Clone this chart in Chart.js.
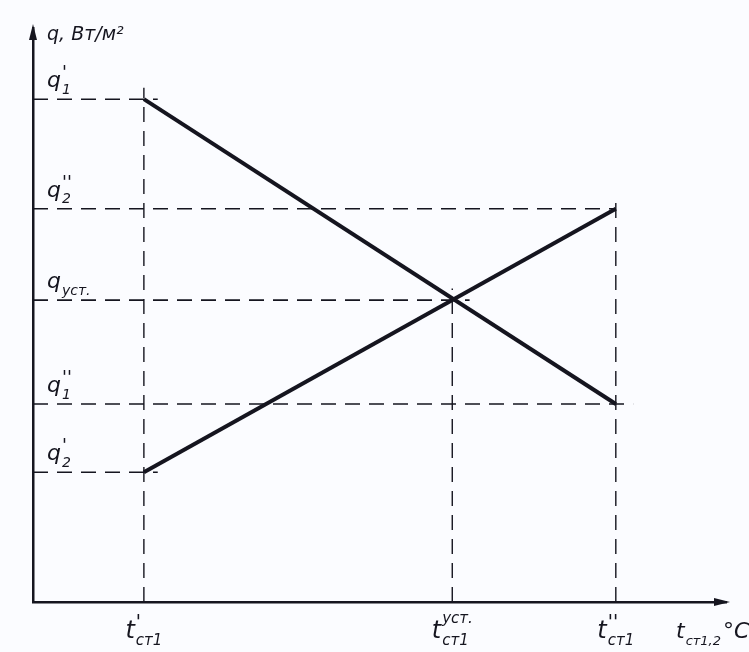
<!DOCTYPE html>
<html>
<head>
<meta charset="utf-8">
<script src="https://cdn.jsdelivr.net/npm/chart.js@4/dist/chart.umd.min.js"></script>
<style>
  html, body { margin: 0; padding: 0; background: #fbfcff; }
  canvas { display: block; }
</style>
</head>
<body>
<canvas id="c" width="749" height="652"></canvas>
<script>
// ---- data (arbitrary units 0..100) ----
const xMarks = [16, 60.5, 84.1];              // t'ст1, t^уст ст1, t''ст1
const xMarkLabels = [
  { base: "t", sup: "'", sub: "ст1" },
  { base: "t", sup: "уст.", sub: "ст1" },
  { base: "t", sup: "''", sub: "ст1" }
];
const yMarks = [87.6, 68.5, 52.6, 34.5, 22.6]; // q'1, q''2, qуст, q''1, q'2
const yMarkLabels = [
  { base: "q", sup: "'", sub: "1" },
  { base: "q", sup: "''", sub: "2" },
  { base: "q", sup: "", sub: "уст." },
  { base: "q", sup: "''", sub: "1" },
  { base: "q", sup: "'", sub: "2" }
];
const q1Line = [87.6, 34.5];   // q1 at t'ст1 and t''ст1
const q2Line = [22.6, 68.5];   // q2 at t'ст1 and t''ст1
const lineX = [xMarks[0], xMarks[2]];
// which x each horizontal guide ends at, which y each vertical guide ends at
const yGuideEnd = [0, 2, 1, 2, 0];   // index into xMarks
const xGuideEnd = [0, 2, 1];         // index into yMarks
const yTitle = "q, Вт/м²";
const xTitle = { base: "t", sub: "ст1,2", tail: "°C" };

// ---- styles ----
const INK = "#15151f";
const DASH = [15, 9];
const FONT = '"DejaVu Sans", sans-serif';

const datasets = [];
yMarks.forEach((v, i) => {
  const overhang = [2, 0, 2.5, 2.5, 2][i];
  datasets.push({
    data: [{ x: 0, y: v }, { x: xMarks[yGuideEnd[i]] + overhang, y: v }],
    borderColor: INK, borderWidth: 1.6, borderDash: DASH, pointRadius: 0, showLine: true
  });
});
xMarks.forEach((v, i) => {
  datasets.push({
    data: [{ x: v, y: 0 }, { x: v, y: yMarks[xGuideEnd[i]] + 2 }],
    borderColor: INK, borderWidth: 1.4, borderDash: DASH, pointRadius: 0, showLine: true
  });
});
datasets.push({
  data: lineX.map((x, i) => ({ x, y: q1Line[i] })),
  borderColor: INK, borderWidth: 4, pointRadius: 0, showLine: true
});
datasets.push({
  data: lineX.map((x, i) => ({ x, y: q2Line[i] })),
  borderColor: INK, borderWidth: 4, pointRadius: 0, showLine: true
});

function drawLabel(ctx, x, y, lab, size, align, subScale) {
  const small = Math.round(size * (subScale || 0.62));
  const supSize = lab.sup && lab.sup.indexOf("'") >= 0 ? Math.round(size * 0.8) : small;
  ctx.font = `italic ${size}px ${FONT}`;
  const bw = ctx.measureText(lab.base).width;
  ctx.font = `italic ${supSize}px ${FONT}`;
  const sw = lab.sup ? ctx.measureText(lab.sup).width : 0;
  ctx.font = `italic ${small}px ${FONT}`;
  const subw = lab.sub ? ctx.measureText(lab.sub).width : 0;
  let tailw = 0;
  if (lab.tail) { ctx.font = `italic ${size}px ${FONT}`; tailw = ctx.measureText(lab.tail).width; }
  const total = bw + 1 + Math.max(sw, subw) + tailw;
  const x0 = align === "center" ? x - total / 2 : x;
  ctx.fillStyle = INK;
  ctx.textBaseline = "alphabetic";
  ctx.textAlign = "left";
  ctx.font = `italic ${size}px ${FONT}`;
  ctx.fillText(lab.base, x0, y);
  if (lab.sup) {
    ctx.font = `italic ${supSize}px ${FONT}`;
    const dy = supSize === small ? size * 0.62 : size * 0.42;
    ctx.fillText(lab.sup, x0 + bw + 1, y - dy);
  }
  ctx.font = `italic ${small}px ${FONT}`;
  if (lab.sub) ctx.fillText(lab.sub, x0 + bw + 1, y + size * 0.3);
  if (lab.tail) {
    ctx.font = `italic ${size}px ${FONT}`;
    ctx.fillText(lab.tail, x0 + bw + 3 + subw, y);
  }
}

const decor = {
  id: "decor",
  beforeDraw(chart) {
    const { ctx } = chart;
    ctx.save();
    ctx.fillStyle = "#fbfcff";
    ctx.fillRect(0, 0, chart.width, chart.height);
    ctx.restore();
  },
  afterDraw(chart) {
    const { ctx, chartArea: a, scales: { x, y } } = chart;
    ctx.save();
    // arrow heads
    ctx.fillStyle = INK;
    ctx.beginPath();
    ctx.moveTo(a.left, a.top - 4);
    ctx.lineTo(a.left - 4, a.top + 12);
    ctx.lineTo(a.left + 4, a.top + 12);
    ctx.closePath(); ctx.fill();
    ctx.beginPath();
    ctx.moveTo(a.right + 4, a.bottom);
    ctx.lineTo(a.right - 12, a.bottom - 4);
    ctx.lineTo(a.right - 12, a.bottom + 4);
    ctx.closePath(); ctx.fill();
    // y mark labels
    yMarks.forEach((v, i) => {
      drawLabel(ctx, a.left + 14, y.getPixelForValue(v) - 12, yMarkLabels[i], 22, "left");
    });
    // x mark labels
    xMarks.forEach((v, i) => {
      drawLabel(ctx, x.getPixelForValue(v), a.bottom + 36, xMarkLabels[i], 24, "center");
    });
    // axis titles
    ctx.font = `italic 19px ${FONT}`;
    ctx.fillStyle = INK;
    ctx.textAlign = "left";
    ctx.fillText(yTitle, a.left + 14, a.top + 12);
    drawLabel(ctx, a.right - 50, a.bottom + 36, xTitle, 22, "left", 0.58);
    ctx.restore();
  }
};

new Chart(document.getElementById("c"), {
  type: "scatter",
  data: { datasets },
  options: {
    responsive: false,
    devicePixelRatio: 1,
    animation: false,
    layout: { padding: { left: 33, right: 23, top: 28, bottom: 50 } },
    plugins: { legend: { display: false }, tooltip: { enabled: false } },
    scales: {
      x: {
        type: "linear", min: 0, max: 100,
        grid: { display: false },
        ticks: { display: false },
        border: { display: true, color: INK, width: 2.5 },
        afterFit: s => { s.height = 0; }
      },
      y: {
        type: "linear", min: 0, max: 100,
        grid: { display: false },
        ticks: { display: false },
        border: { display: true, color: INK, width: 2.5 },
        afterFit: s => { s.width = 0; }
      }
    }
  },
  plugins: [decor]
});
</script>
</body>
</html>
